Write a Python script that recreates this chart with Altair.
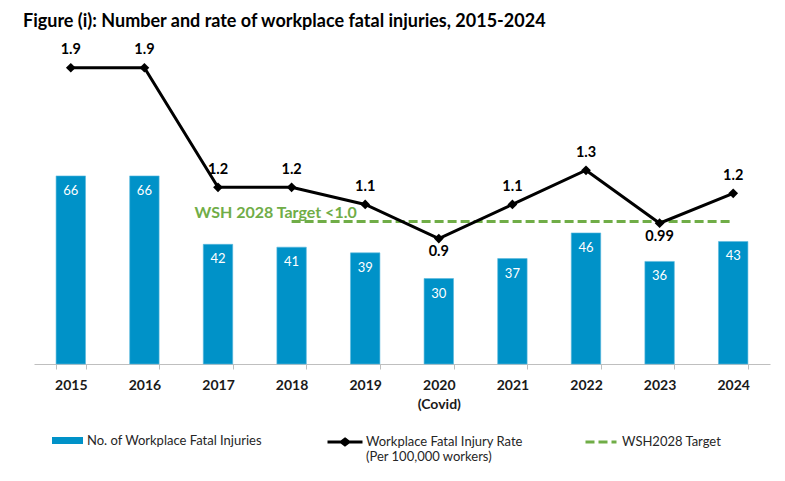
import altair as alt
import pandas as pd

years = ["2015", "2016", "2017", "2018", "2019", "2020", "2021", "2022", "2023", "2024"]
counts = [66, 66, 42, 41, 39, 30, 37, 46, 36, 43]
rates = [1.9, 1.9, 1.2, 1.2, 1.1, 0.9, 1.1, 1.3, 0.99, 1.165]
rate_labels = ["1.9", "1.9", "1.2", "1.2", "1.1", "0.9", "1.1", "1.3", "0.99", "1.2"]
label_side = ["above", "above", "above", "above", "above", "below", "above", "above", "below", "above"]
target_years = ["2018", "2019", "2020", "2021", "2022", "2023", "2024"]
target_value = 1.0
target_text = "WSH 2028 Target <1.0"
series_bar = "No. of Workplace Fatal Injuries"
series_line = "Workplace Fatal Injury Rate"
series_line_sub = "(Per 100,000 workers)"
series_target = "WSH2028 Target"
title_text = "Figure (i): Number and rate of workplace fatal injuries, 2015-2024"

BLUE = "#0092C8"
GREEN = "#70AD47"
FONT = "Lato"

df = pd.DataFrame({
    "year": years, "count": counts, "rate": rates,
    "rate_label": rate_labels, "side": label_side,
    "s_bar": series_bar, "s_line": series_line,
})
df_target = pd.DataFrame({"year": target_years, "value": [target_value] * len(target_years),
                          "s_target": series_target})
df_ttext = pd.DataFrame({"year": [target_years[0]], "value": [target_value], "txt": [target_text]})

count_scale = alt.Scale(domain=[0, 112.3], nice=False, zero=True)
rate_scale = alt.Scale(domain=[0.166, 2.039], nice=False, zero=False)

x_enc = alt.X(
    "year:O", sort=years,
    scale=alt.Scale(domain=years, paddingInner=0.6, paddingOuter=0.3),
    axis=alt.Axis(
        title=None, labelAngle=0, labelFont=FONT, labelFontSize=14, labelFontWeight="bold",
        labelColor="#1a1a1a", domainColor="#bfbfbf", tickColor="#bfbfbf", tickSize=5,
        tickBand="extent", labelPadding=9, labelLineHeight=19, grid=False,
        labelExpr="datum.value == '2020' ? ['2020', '(Covid)'] : datum.value",
    ),
)

leg_common = dict(title=None, orient="none", padding=0, labelFont=FONT, labelFontSize=13,
                  labelColor="#262626", labelOffset=4, labelLimit=300)

bars = alt.Chart(df).mark_bar(stroke="#5bb8dd", strokeWidth=0.6).encode(
    x=x_enc,
    y=alt.Y("count:Q", scale=count_scale, axis=None),
    color=alt.Color("s_bar:N", scale=alt.Scale(domain=[series_bar], range=[BLUE]),
                    legend=alt.Legend(legendX=18, legendY=381, symbolType="M-1,-0.225H1V0.225H-1Z",
                                      symbolSize=961, symbolStrokeWidth=0, **leg_common)),
)

bar_text = alt.Chart(df).mark_text(color="white", font=FONT, fontSize=13, baseline="middle", dy=15).encode(
    x=x_enc,
    y=alt.Y("count:Q", scale=count_scale, axis=None),
    text="count:Q",
)

target_line = alt.Chart(df_target).mark_line(color=GREEN, strokeWidth=3).encode(
    x=x_enc,
    y=alt.Y("value:Q", scale=rate_scale, axis=None),
    strokeDash=alt.StrokeDash("s_target:N", scale=alt.Scale(domain=[series_target], range=[[9, 4]]),
                              legend=alt.Legend(legendX=550, legendY=381, symbolType="M-1,0H1",
                                                symbolSize=961, symbolStrokeWidth=3,
                                                symbolStrokeColor=GREEN, **leg_common)),
)

line = alt.Chart(df).mark_line(color="black", strokeWidth=3).encode(
    x=x_enc,
    y=alt.Y("rate:Q", scale=rate_scale, axis=None),
    stroke=alt.Stroke("s_line:N", scale=alt.Scale(domain=[series_line], range=["black"]),
                      legend=alt.Legend(legendX=292, legendY=379,
                                        symbolType="M-1,0H1M0,-0.17L0.22,0L0,0.17L-0.22,0Z",
                                        symbolSize=1225, symbolStrokeWidth=3, symbolFillColor="black",
                                        labelExpr=f"datum.label == '{series_line}' ? ['{series_line}', '{series_line_sub}'] : datum.label",
                                        **{**leg_common, "labelOffset": 2})),
)

points = alt.Chart(df).mark_point(shape="diamond", filled=True, color="black", size=95, opacity=1).encode(
    x=x_enc,
    y=alt.Y("rate:Q", scale=rate_scale, axis=None),
)

lab_above = alt.Chart(df).transform_filter("datum.side == 'above'").mark_text(
    font=FONT, fontSize=14.5, fontWeight="bold", color="black", baseline="middle", dy=-17.5
).encode(x=x_enc, y=alt.Y("rate:Q", scale=rate_scale, axis=None), text="rate_label:N")

lab_below = alt.Chart(df).transform_filter("datum.side == 'below'").mark_text(
    font=FONT, fontSize=14.5, fontWeight="bold", color="black", baseline="middle", dy=13.5
).encode(x=x_enc, y=alt.Y("rate:Q", scale=rate_scale, axis=None), text="rate_label:N")

ttext = alt.Chart(df_ttext).mark_text(
    font=FONT, fontSize=16, fontWeight="bold", color=GREEN, baseline="middle", align="center", dx=-16, dy=-9
).encode(x=x_enc, y=alt.Y("value:Q", scale=rate_scale, axis=None), text="txt:N")

chart = alt.layer(bars, bar_text, target_line, line, points, lab_above, lab_below, ttext).resolve_scale(
    y="independent"
).properties(
    width=736, height=320,
    title=alt.Title(title_text, anchor="start", dx=-11, offset=11, font=FONT, fontSize=18,
                    fontWeight="bold", color="black"),
    padding={"left": 26, "top": 36, "right": 5, "bottom": 106},
    autosize=alt.AutoSizeParams(type="none"),
).configure_view(stroke=None)

chart.save("out.html", embed_options={"renderer": "svg", "actions": False})
